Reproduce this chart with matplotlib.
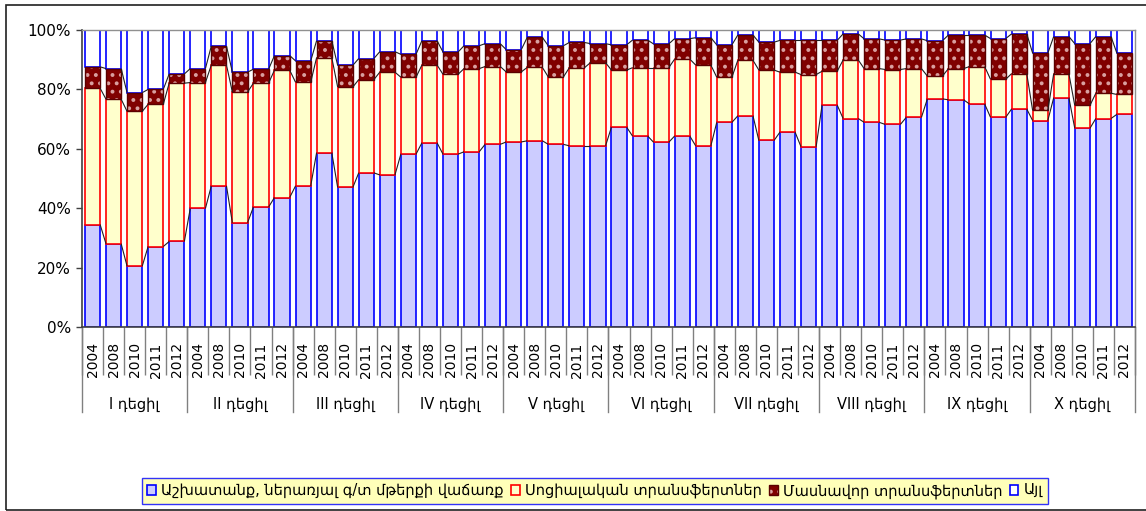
import numpy as np
import matplotlib
matplotlib.use("Agg")
import matplotlib.pyplot as plt
from matplotlib.patches import Patch, Rectangle
from matplotlib.collections import LineCollection
import matplotlib.transforms as mtransforms

plt.rcParams['font.family'] = ['DejaVu Sans']
plt.rcParams['hatch.linewidth'] = 1.6

groups = ["I դեցիլ", "II դեցիլ", "III դեցիլ", "IV դեցիլ", "V դեցիլ",
          "VI դեցիլ", "VII դեցիլ", "VIII դեցիլ", "IX դեցիլ", "X դեցիլ"]
years = ["2004", "2008", "2010", "2011", "2012"]

series_names = ["Աշխատանք, ներառյալ գ/տ մթերքի վաճառք",
                "Սոցիալական տրանսֆերտներ",
                "Մասնավոր տրանսֆերտներ",
                "Այլ"]

labor = [34.5, 28.0, 20.5, 27.1, 28.8,
         39.9, 47.5, 35.1, 40.4, 43.6,
         47.5, 58.7, 47.0, 51.9, 51.2,
         58.2, 62.0, 58.2, 59.0, 61.5,
         62.3, 62.7, 61.5, 61.0, 61.0,
         67.3, 64.3, 62.2, 64.3, 61.0,
         68.9, 71.1, 62.8, 65.6, 60.7,
         74.7, 70.2, 68.9, 68.2, 70.6,
         76.8, 76.5, 75.1, 70.6, 73.4,
         69.5, 77.2, 66.9, 70.2, 71.6]
social = [45.9, 48.7, 52.1, 47.9, 53.3,
          42.4, 40.7, 44.0, 41.7, 42.9,
          34.9, 32.0, 33.8, 31.4, 34.6,
          25.9, 26.2, 26.9, 28.0, 26.2,
          23.6, 24.7, 22.7, 26.3, 28.0,
          19.2, 23.0, 25.1, 25.9, 27.2,
          15.2, 18.7, 23.7, 20.2, 24.3,
          11.4, 19.7, 18.1, 18.5, 16.4,
          7.7, 10.5, 12.6, 12.8, 11.9,
          3.4, 8.1, 7.7, 8.5, 6.7]
private = [7.2, 10.3, 6.3, 5.0, 3.1,
           4.7, 6.4, 6.7, 4.7, 4.9,
           7.2, 5.7, 7.3, 7.1, 6.9,
           7.7, 8.2, 7.5, 7.7, 7.7,
           7.5, 10.1, 10.5, 8.5, 6.4,
           8.5, 9.3, 8.0, 6.9, 9.2,
           10.9, 8.5, 9.4, 10.7, 11.5,
           10.4, 8.8, 10.0, 9.9, 10.0,
           11.9, 11.3, 10.6, 13.7, 13.4,
           19.3, 12.5, 20.8, 19.1, 13.9]
other = [12.4, 13.0, 21.1, 20.0, 14.8,
         13.0, 5.4, 14.2, 13.2, 8.6,
         10.4, 3.6, 11.9, 9.6, 7.3,
         8.2, 3.6, 7.4, 5.3, 4.6,
         6.6, 2.5, 5.3, 4.2, 4.6,
         5.0, 3.4, 4.7, 2.9, 2.6,
         5.0, 1.7, 4.1, 3.5, 3.5,
         3.5, 1.3, 3.0, 3.4, 3.0,
         3.6, 1.7, 1.7, 2.9, 1.3,
         7.8, 2.2, 4.6, 2.2, 7.8]

data = np.array([labor, social, private, other])
totals = data.sum(axis=0)
shares = data / totals * 100.0

n = shares.shape[1]
x = np.arange(n)
w = 0.72

fig = plt.figure(figsize=(11.46, 5.11), dpi=100)
ax = fig.add_axes([82/1146, 1-327/511, (1135-82)/1146, (327-30)/511])

face = ['#CCCCFF', '#FFFFCC', '#800000', '#FFFFFF']
edge = ['#0000FF', '#FF0000', '#5A0000', '#0000FF']

bottom = np.zeros(n)
for k in range(4):
    if k == 2:
        ax.bar(x, shares[k], w, bottom=bottom, color=face[k],
               edgecolor='#D9A0A0', linewidth=0, hatch='..', zorder=2)
        ax.bar(x, shares[k], w, bottom=bottom, fill=False,
               edgecolor=edge[k], linewidth=1.0, zorder=3)
    else:
        ax.bar(x, shares[k], w, bottom=bottom, color=face[k],
               edgecolor=edge[k], linewidth=1.2, zorder=2)
    bottom = bottom + shares[k]

# series lines
cum = np.cumsum(shares, axis=0)
segs = []
for k in range(3):
    for i in range(n - 1):
        segs.append([(x[i] + w/2, cum[k, i]), (x[i+1] - w/2, cum[k, i+1])])
ax.add_collection(LineCollection(segs, colors='#202020', linewidths=0.8, zorder=4))

ax.set_xlim(-0.5, n - 0.5)
ax.set_ylim(0, 100)
ax.set_yticks([0, 20, 40, 60, 80, 100])
ax.set_yticklabels([f"{v}%" for v in [0, 20, 40, 60, 80, 100]], fontsize=11)
ax.tick_params(axis='y', length=4, width=1, color='#404040', pad=4)

ax.set_xticks(x)
ax.set_xticklabels(years * len(groups), rotation=90, fontsize=10)
ax.tick_params(axis='x', which='major', length=0, pad=11)
ax.set_xticks(np.arange(-0.5, n, 1.0), minor=True)
ax.tick_params(axis='x', which='minor', length=34.5, width=1, color='#808080')

for s in ['left', 'bottom']:
    ax.spines[s].set_color('#404040')
    ax.spines[s].set_linewidth(1.2)
for s in ['top', 'right']:
    ax.spines[s].set_color('#909090')
    ax.spines[s].set_linewidth(1.0)

trans = mtransforms.blended_transform_factory(ax.transData, ax.transAxes)
ng = len(groups)
per = len(years)
for g in range(ng + 1):
    ax.plot([g*per - 0.5, g*per - 0.5], [0, -85/297], transform=trans,
            color='#808080', lw=1, clip_on=False)
for g, name in enumerate(groups):
    ax.text(g*per + (per - 1)/2, -77/297, name, transform=trans,
            ha='center', va='center', fontsize=10.5)

handles = [Patch(facecolor=face[0], edgecolor=edge[0], lw=1.2),
           Patch(facecolor=face[1], edgecolor=edge[1], lw=1.2),
           (Patch(facecolor=face[2], edgecolor='#D9A0A0', lw=0, hatch='..'),
            Patch(fill=False, edgecolor=edge[2], lw=1.0)),
           Patch(facecolor=face[3], edgecolor=edge[3], lw=1.2)]
leg = fig.legend(handles, series_names, loc='center', ncol=4,
                 bbox_to_anchor=(595/1146, 1-491/511), fontsize=10.5,
                 frameon=True, fancybox=False, handlelength=0.6,
                 handleheight=0.6, handletextpad=0.35, columnspacing=0.5,
                 borderpad=0.35, borderaxespad=0)
leg.get_frame().set_facecolor('#FFFFA8')
leg.get_frame().set_edgecolor('#0000FF')
leg.get_frame().set_linewidth(1.0)

fig.patches.append(Rectangle((6/1146, 1/511), 1.2, 1-6/511,
                             transform=fig.transFigure, fill=False,
                             edgecolor='#202020', lw=1.2, zorder=0))

fig.savefig("out.png", dpi=100)
